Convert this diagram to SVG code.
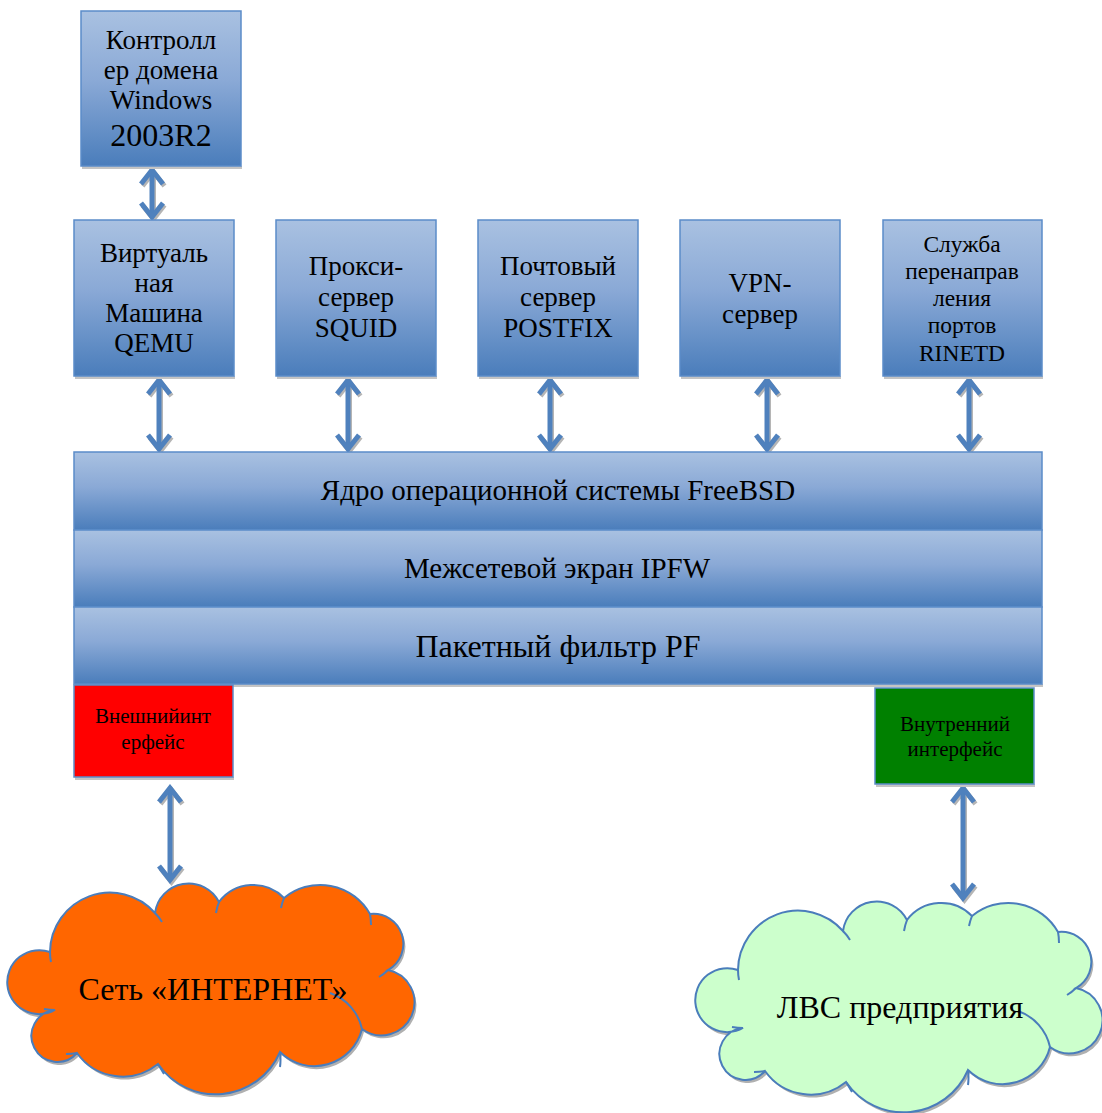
<svg xmlns="http://www.w3.org/2000/svg" width="1102" height="1113" viewBox="0 0 1102 1113">
<defs>
<linearGradient id="bg" x1="0" y1="0" x2="0" y2="1">
<stop offset="0" stop-color="#a9c1e1"/>
<stop offset="0.45" stop-color="#8aa9d6"/>
<stop offset="1" stop-color="#4a7dbb"/>
</linearGradient>
<marker id="ah" viewBox="0 0 20 26" refX="16" refY="13" markerWidth="20" markerHeight="26" markerUnits="userSpaceOnUse" orient="auto-start-reverse">
<path d="M2,2 L16,13 L2,24" fill="none" stroke="#4f81bd" stroke-width="5"/>
</marker>
<marker id="ahs" viewBox="0 0 20 26" refX="16" refY="13" markerWidth="20" markerHeight="26" markerUnits="userSpaceOnUse" orient="auto-start-reverse">
<path d="M2,2 L16,13 L2,24" fill="none" stroke="#b5b5b5" stroke-width="5"/>
</marker>
<path id="cloud" d="M155,913 A34,34 0 0 1 219,902 A43,43 0 0 1 284,898 A57,57 0 0 1 370,914 A30,30 0 0 1 388,970 A33,33 0 1 1 362,1029 A49,49 0 0 1 280,1052 A70,70 0 0 1 158,1064 A56,56 0 0 1 77,1053 A26,26 0 1 1 55,1010 A32,32 0 1 1 50,952 A60,60 0 0 1 155,913 Z"/>
<path id="tails" d="M155,913 Q159,917 162,922 M219,902 Q217,907 216,913 M284,898 Q282,903 281,908 M370,914 Q371,919 371,925 M388,970 Q384,974 379,977 M330,993 A49,49 0 0 1 362,1029 M280,1052 Q281,1060 280,1067 M158,1064 Q161,1069 164,1074 M77,1053 Q72,1054 66,1054 M55,1010 Q50,1010 44,1009 M50,952 Q50,957 51,962"/>
</defs>
<style>
.box{fill:url(#bg);stroke:#5b8cc9;stroke-width:1.5}
.sh{fill:#c4c4c4}
.t{fill:#000;text-anchor:middle}
.con{stroke:#4f81bd;stroke-width:5;fill:none;marker-start:url(#ah);marker-end:url(#ah)}
.cons{stroke:#b5b5b5;stroke-width:5;fill:none;marker-start:url(#ahs);marker-end:url(#ahs)}
.cl{stroke:#4a7dbb;stroke-width:2}
.tl{fill:none;stroke:#4a7dbb;stroke-width:2}
</style>
<rect width="1102" height="1113" fill="#fff"/>

<g id="connectors">
<g transform="translate(1.5,2)">
<line class="cons" x1="152" y1="170" x2="152" y2="217"/>
<line class="cons" x1="159" y1="380" x2="159" y2="449"/>
<line class="cons" x1="348" y1="380" x2="348" y2="449"/>
<line class="cons" x1="550" y1="380" x2="550" y2="449"/>
<line class="cons" x1="767" y1="380" x2="767" y2="449"/>
<line class="cons" x1="969" y1="380" x2="969" y2="449"/>
<line class="cons" x1="170" y1="788" x2="170" y2="880"/>
<line class="cons" x1="963" y1="788" x2="963" y2="898"/>
</g>
<line class="con" x1="152" y1="170" x2="152" y2="217"/>
<line class="con" x1="159" y1="380" x2="159" y2="449"/>
<line class="con" x1="348" y1="380" x2="348" y2="449"/>
<line class="con" x1="550" y1="380" x2="550" y2="449"/>
<line class="con" x1="767" y1="380" x2="767" y2="449"/>
<line class="con" x1="969" y1="380" x2="969" y2="449"/>
<line class="con" x1="170" y1="788" x2="170" y2="880"/>
<line class="con" x1="963" y1="788" x2="963" y2="898"/>
</g>

<g font-family="Liberation Serif, serif">
<g id="dc">
<rect class="sh" x="82" y="166" width="160" height="3"/>
<rect class="box" x="81" y="11" width="160" height="155"/>
<text class="t" font-size="27"><tspan x="161" y="49">Контролл</tspan><tspan x="161" y="79">ер домена</tspan><tspan x="161" y="109">Windows</tspan></text>
<text class="t" font-size="32" x="161" y="146">2003R2</text>
</g>

<g id="qemu">
<rect class="sh" x="75" y="376" width="160" height="3"/>
<rect class="box" x="74" y="220" width="160" height="156"/>
<text class="t" font-size="27"><tspan x="154" y="262">Виртуаль</tspan><tspan x="154" y="292">ная</tspan><tspan x="154" y="322">Машина</tspan><tspan x="154" y="352">QEMU</tspan></text>
</g>

<g id="squid">
<rect class="sh" x="277" y="376" width="160" height="3"/>
<rect class="box" x="276" y="220" width="160" height="156"/>
<text class="t" font-size="27"><tspan x="356" y="275">Прокси-</tspan><tspan x="356" y="306">сервер</tspan><tspan x="356" y="337">SQUID</tspan></text>
</g>

<g id="postfix">
<rect class="sh" x="479" y="376" width="160" height="3"/>
<rect class="box" x="478" y="220" width="160" height="156"/>
<text class="t" font-size="27"><tspan x="558" y="275">Почтовый</tspan><tspan x="558" y="306">сервер</tspan><tspan x="558" y="337">POSTFIX</tspan></text>
</g>

<g id="vpn">
<rect class="sh" x="681" y="376" width="160" height="3"/>
<rect class="box" x="680" y="220" width="160" height="156"/>
<text class="t" font-size="27"><tspan x="760" y="292">VPN-</tspan><tspan x="760" y="323">сервер</tspan></text>
</g>

<g id="rinetd">
<rect class="sh" x="884" y="376" width="159" height="3"/>
<rect class="box" x="883" y="220" width="159" height="156"/>
<text class="t" font-size="23.5"><tspan x="962" y="252">Служба</tspan><tspan x="962" y="279">перенаправ</tspan><tspan x="962" y="306">ления</tspan><tspan x="962" y="333">портов</tspan><tspan x="962" y="361">RINETD</tspan></text>
</g>

<g id="kernel">
<rect class="box" x="74" y="452" width="968" height="78"/>
<text class="t" font-size="29" x="558" y="500">Ядро операционной системы FreeBSD</text>
</g>

<g id="ipfw">
<rect class="box" x="74" y="530" width="968" height="77"/>
<text class="t" font-size="29" x="557" y="578">Межсетевой экран IPFW</text>
</g>

<g id="pf">
<rect class="sh" x="75" y="684" width="968" height="3"/>
<rect class="box" x="74" y="607" width="968" height="77"/>
<text class="t" font-size="32" x="558" y="657">Пакетный фильтр PF</text>
</g>

<g id="ext">
<rect class="sh" x="75" y="777" width="159" height="3"/>
<rect x="74" y="685" width="159" height="92" fill="#ff0000" stroke="#5b8cc9" stroke-width="1.5"/>
<text class="t" font-size="21"><tspan x="153" y="723">Внешнийинт</tspan><tspan x="153" y="749">ерфейс</tspan></text>
</g>

<g id="int">
<rect class="sh" x="876" y="784" width="159" height="3"/>
<rect x="875" y="688" width="159" height="96" fill="#008000" stroke="#5b8cc9" stroke-width="1.5"/>
<text class="t" font-size="21"><tspan x="955" y="731">Внутренний</tspan><tspan x="955" y="756">интерфейс</tspan></text>
</g>

<g id="internet">
<use href="#cloud" transform="translate(2,3)" fill="#b0b0b0"/>
<use href="#cloud" class="cl" fill="#ff6600"/>
<use href="#tails" class="tl"/>
<text class="t" font-size="32" x="213" y="1000">Сеть «ИНТЕРНЕТ»</text>
</g>

<g id="lan">
<g transform="translate(688,18)">
<use href="#cloud" transform="translate(2,3)" fill="#b0b0b0"/>
<use href="#cloud" class="cl" fill="#ccffcc"/>
<use href="#tails" class="tl"/>
</g>
<text class="t" font-size="32" x="900" y="1018">ЛВС предприятия</text>
</g>
</g>
</svg>
